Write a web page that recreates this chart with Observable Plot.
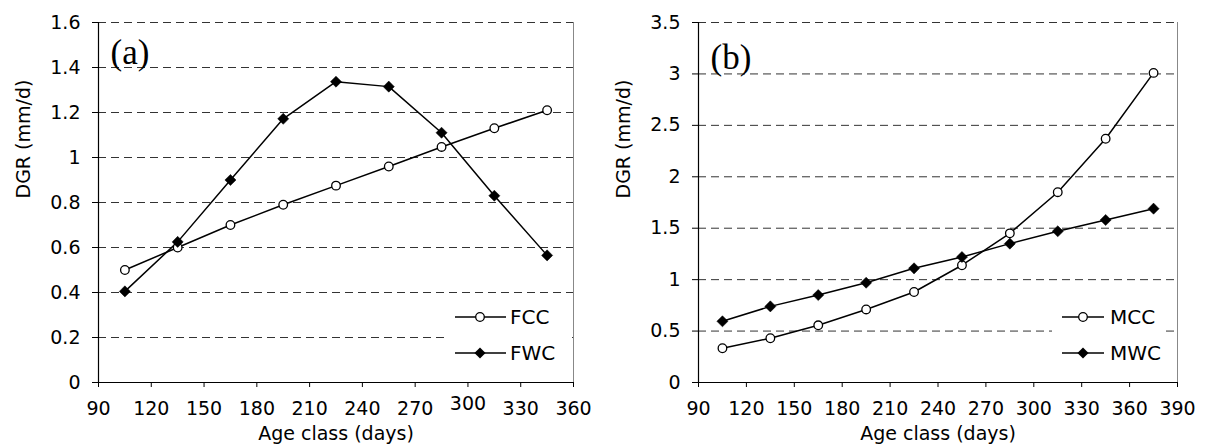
<!DOCTYPE html>
<html><head><meta charset="utf-8">
<script src="https://cdn.jsdelivr.net/npm/d3@7"></script>
<script src="https://cdn.jsdelivr.net/npm/@observablehq/plot@0.6"></script>
<style>
body{margin:0;background:#fff;}
#wrap{display:flex;width:1205px;height:447px;}
#wrap svg{display:block;}
</style></head><body><div id="wrap"></div>
<script>
// Panel (a)
const ageA = [105, 135, 165, 195, 225, 255, 285, 315, 345];
const fcc = [0.50, 0.60, 0.70, 0.79, 0.875, 0.96, 1.047, 1.13, 1.21];
const fwc = [0.405, 0.625, 0.90, 1.172, 1.337, 1.315, 1.11, 0.83, 0.565];
const xTicksA = [90, 120, 150, 180, 210, 240, 270, 300, 330, 360];
const yTicksA = [0, 0.2, 0.4, 0.6, 0.8, 1, 1.2, 1.4, 1.6];
// Panel (b)
const ageB = [105, 135, 165, 195, 225, 255, 285, 315, 345, 375];
const mcc = [0.333, 0.43, 0.556, 0.71, 0.88, 1.14, 1.45, 1.85, 2.37, 3.01];
const mwc = [0.595, 0.74, 0.85, 0.97, 1.11, 1.22, 1.35, 1.47, 1.58, 1.69];
const xTicksB = [90, 120, 150, 180, 210, 240, 270, 300, 330, 360, 390];
const yTicksB = [0, 0.5, 1, 1.5, 2, 2.5, 3, 3.5];

const FONT = "'DejaVu Sans', sans-serif";
const fmt = d => String(+(+d).toFixed(2));

function panel(cfg) {
  const open = cfg.ages.map((x, i) => ({x, y: cfg.open[i]}));
  const filled = cfg.ages.map((x, i) => ({x, y: cfg.filled[i]}));
  const [x0, x1] = [cfg.xTicks[0], cfg.xTicks[cfg.xTicks.length - 1]];
  const [y0, y1] = [cfg.yTicks[0], cfg.yTicks[cfg.yTicks.length - 1]];
  const raised = cfg.raised ?? [];
  const svg = Plot.plot({
    width: cfg.width, height: 447,
    marginLeft: 98, marginRight: cfg.marginRight, marginTop: 22, marginBottom: 65,
    style: {fontFamily: FONT, fontSize: "19px", color: "#000", background: "#fff", overflow: "visible"},
    x: {domain: [x0, x1]},
    y: {domain: [y0, y1]},
    marks: [
      Plot.ruleY(cfg.yTicks.filter(t => t > 0), {stroke: "#333", strokeWidth: 1, strokeDasharray: "8,5"}),
      Plot.ruleX([x1], {stroke: "#888", strokeWidth: 1}),
      Plot.axisY({ticks: cfg.yTicks, tickSize: 6, tickPadding: 12, tickFormat: fmt, label: null, fontSize: 19}),
      Plot.axisX({ticks: cfg.xTicks, tickSize: 5, tickPadding: 14, label: null, fontSize: 19,
        tickFormat: d => raised.includes(d) ? "" : fmt(d)}),
      ...(raised.length ? [Plot.axisX({ticks: raised, tickSize: 0, tickPadding: 19, dy: -5, label: null, fontSize: 19, tickFormat: fmt})] : []),
      Plot.ruleY([y0], {stroke: "#000", strokeWidth: 1.2}),
      Plot.ruleX([x0], {stroke: "#000", strokeWidth: 1.2}),
      Plot.line(open, {x: "x", y: "y", stroke: "#000", strokeWidth: 1.5}),
      Plot.line(filled, {x: "x", y: "y", stroke: "#000", strokeWidth: 1.5}),
      Plot.dot(open, {x: "x", y: "y", r: 4.3, stroke: "#000", strokeWidth: 1.3, fill: "#fff"}),
      Plot.dot(filled, {x: "x", y: "y", r: 5, symbol: "diamond2", fill: "#000", stroke: "#000", strokeWidth: 0.5}),
      Plot.text([cfg.tag], {frameAnchor: "top-left", dx: 12, dy: cfg.tagDy, lineAnchor: "bottom", textAnchor: "start",
        fontFamily: "'Liberation Serif', 'Times New Roman', serif", fontSize: 35}),
      Plot.text(["Age class (days)"], {frameAnchor: "bottom", dy: 57, lineAnchor: "bottom", fontSize: 19}),
      Plot.text(["DGR (mm/d)"], {frameAnchor: "left", dx: -69, dy: -4, rotate: -90, lineAnchor: "bottom", fontSize: 19})
    ]
  });
  // legend inside the plot frame
  const g = d3.select(svg).append("g").attr("text-anchor", "start");
  const L = cfg.legend;
  g.append("rect").attr("x", L.boxX).attr("y", 300).attr("width", L.boxW).attr("height", 72).attr("fill", "#fff");
  cfg.names.forEach((name, i) => {
    const y = [317, 353][i];
    g.append("line").attr("x1", L.lineX1).attr("x2", L.lineX2).attr("y1", y).attr("y2", y)
      .attr("stroke", "#000").attr("stroke-width", 1.5);
    if (i === 0) {
      g.append("circle").attr("cx", L.mark).attr("cy", y).attr("r", 4.3)
        .attr("fill", "#fff").attr("stroke", "#000").attr("stroke-width", 1.3);
    } else {
      g.append("path").attr("d", d3.symbol(d3.symbolDiamond2, Math.PI * 25)())
        .attr("transform", `translate(${L.mark},${y})`).attr("fill", "#000");
    }
    g.append("text").attr("x", L.text).attr("y", y).attr("dy", "0.36em").attr("text-anchor", "start")
      .attr("font-family", FONT).attr("font-size", 20).attr("fill", "#000").text(name);
  });
  return svg;
}

const wrap = document.getElementById("wrap");
wrap.appendChild(panel({
  width: 600, marginRight: 27, ages: ageA, open: fcc, filled: fwc,
  xTicks: xTicksA, yTicks: yTicksA, raised: [300], tag: "(a)", tagDy: 41, names: ["FCC", "FWC"],
  legend: {boxX: 444, boxW: 128, lineX1: 455, lineX2: 506, mark: 480, text: 510}
}));
wrap.appendChild(panel({
  width: 605, marginRight: 28, ages: ageB, open: mcc, filled: mwc,
  xTicks: xTicksB, yTicks: yTicksB, tag: "(b)", tagDy: 46, names: ["MCC", "MWC"],
  legend: {boxX: 452, boxW: 113, lineX1: 462, lineX2: 504, mark: 483, text: 510}
}));
</script>
</body></html>
